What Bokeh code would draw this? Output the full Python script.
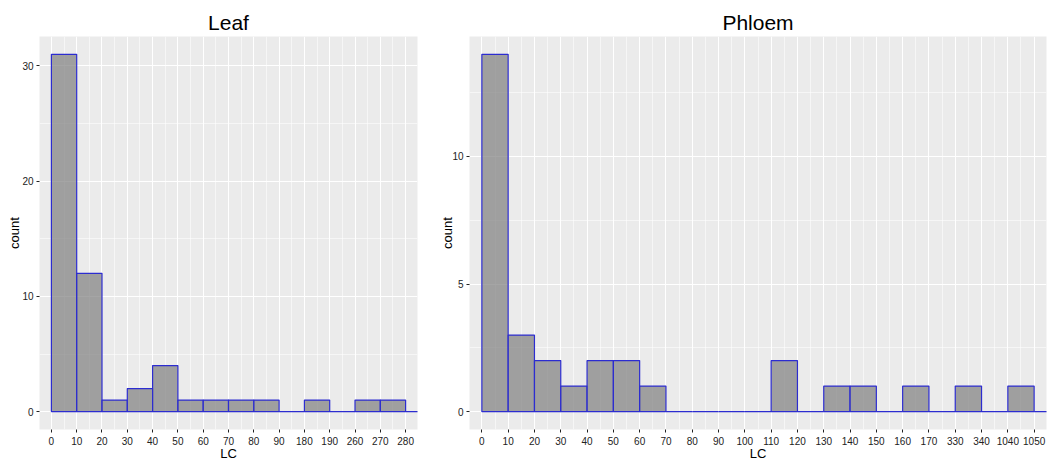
from bokeh.plotting import figure
from bokeh.models import FixedTicker, Range1d, ColumnDataSource, Title
from bokeh.layouts import row
from bokeh.embed import file_html
from bokeh.resources import INLINE

# ---- data ----
leaf_breaks = ["0", "10", "20", "30", "40", "50", "60", "70", "80", "90",
               "180", "190", "260", "270", "280"]
leaf_counts = [31, 12, 1, 2, 4, 1, 1, 1, 1, 0, 1, 0, 1, 1, 0]

phloem_breaks = ["0", "10", "20", "30", "40", "50", "60", "70", "80", "90",
                 "100", "110", "120", "130", "140", "150", "160", "170",
                 "330", "340", "1040", "1050"]
phloem_counts = [14, 3, 2, 1, 2, 2, 1, 0, 0, 0, 0, 2, 0, 1, 1, 0, 1, 0, 1, 0, 1, 0]

leaf_ystep = 10
phloem_ystep = 5

FONT = "Liberation Sans"
TXT = "#222222"


def make_panel(title, breaks, counts, ystep, width, mb_left, mb_right,
               title_offset, ylab_standoff):
    n = len(breaks) - 1
    ymax = max(counts)
    p = figure(width=width, height=463, output_backend="svg",
               toolbar_location=None, title=None,
               x_range=Range1d(-0.47, n + 0.47),
               y_range=Range1d(-0.05 * ymax, 1.05 * ymax),
               min_border_left=mb_left, min_border_right=mb_right,
               min_border_top=36, min_border_bottom=33)
    p.background_fill_color = "#EBEBEB"
    p.border_fill_color = "white"
    p.outline_line_color = None

    src = ColumnDataSource(dict(
        left=list(range(len(counts))),
        right=[i + 1 for i in range(len(counts))],
        top=counts,
        bottom=[0] * len(counts),
    ))
    p.quad(left="left", right="right", top="top", bottom="bottom", source=src,
           fill_color="#7F7F7F", fill_alpha=0.7,
           line_color="#2C2CD0", line_width=1.2)

    yticks = list(range(0, int(ymax) + 1, ystep))
    yminor = [t + ystep / 2 for t in range(-ystep, int(ymax) + ystep, ystep)]
    p.yaxis.ticker = FixedTicker(ticks=yticks, minor_ticks=yminor)
    p.xaxis.ticker = FixedTicker(ticks=list(range(n + 1)),
                                 minor_ticks=[i + 0.5 for i in range(-1, n + 1)])
    p.xaxis.major_label_overrides = {i: b for i, b in enumerate(breaks)}

    for ax in (p.xaxis, p.yaxis):
        ax.axis_line_color = None
        ax.major_tick_line_color = TXT
        ax.major_tick_out = 3
        ax.major_tick_in = 0
        ax.minor_tick_line_color = None
        ax.major_label_text_font = FONT
        ax.major_label_text_font_size = "10px"
        ax.major_label_text_color = TXT
        ax.major_label_standoff = 2
        ax.axis_label_text_font = FONT
        ax.axis_label_text_font_size = "13px"
        ax.axis_label_text_font_style = "normal"
        ax.axis_label_text_color = "black"

    p.xaxis.major_label_standoff = 3
    p.xaxis.axis_label = "LC"
    p.xaxis.axis_label_standoff = -2
    p.yaxis.axis_label = "count"
    p.yaxis.axis_label_standoff = ylab_standoff

    for g in (p.xgrid, p.ygrid):
        g.grid_line_color = "white"
        g.grid_line_width = 1.1
        g.minor_grid_line_color = "white"
        g.minor_grid_line_width = 0.55

    p.add_layout(Title(text=title, align="center", offset=title_offset,
                       standoff=6, text_font=FONT, text_font_size="21px",
                       text_font_style="normal", text_color="black"), "above")
    return p


p1 = make_panel("Leaf", leaf_breaks, leaf_counts, leaf_ystep,
                width=437, mb_left=39, mb_right=20, title_offset=-9,
                ylab_standoff=-3)
p2 = make_panel("Phloem", phloem_breaks, phloem_counts, phloem_ystep,
                width=618, mb_left=30, mb_right=9, title_offset=-6,
                ylab_standoff=-6)

layout = row(p1, p2)
open("out.html", "w").write(file_html(layout, INLINE))
